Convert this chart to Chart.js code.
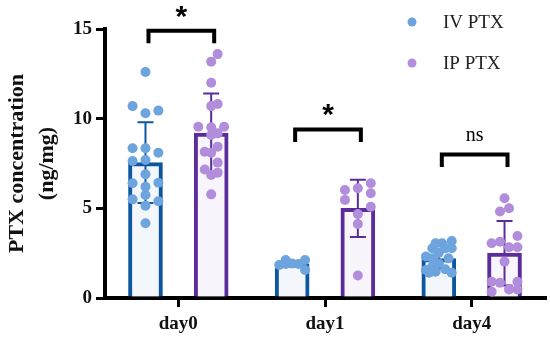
<!DOCTYPE html>
<html>
<head>
<meta charset="utf-8">
<script src="https://cdn.jsdelivr.net/npm/chart.js@4.4.1/dist/chart.umd.min.js"></script>
<style>
  body { margin: 0; background: #fff; }
  #wrap { width: 550px; height: 344px; }
</style>
</head>
<body>
<div id="wrap"><canvas id="ptxChart" width="550" height="344"></canvas></div>
<script>
// categories and group summaries
const days = ['day0', 'day1', 'day4'];
const ivMean = [7.55, 1.9, 2.2];
const ivSD = [2.25, 0.15, 0.55];
const ipMean = [9.2, 5.0, 2.5];
const ipSD = [2.2, 1.6, 1.8];

// individual points per day (values) and their scatter column (-2..2)
const ivDay0 = [12.6, 10.7, 10.3, 10.45, 8.35, 8.35, 8.1, 7.64, 7.7, 6.9, 6.4, 6.2, 6.43, 5.5, 5.74, 5.39, 5.15, 4.17];
const ivDay0Col = [0, -2, 0, 2, -2, 0, 2, -2, 0, 0, -2, 0, 2, -2, 0, 2, 0, 0];
const ivDay1 = [1.84, 2.12, 1.93, 1.9, 2.12, 1.56, 1.9];
const ivDay1Col = [-2, -1, 0, 1, 2, 2, -1];
const ivDay4 = [2.31, 1.56, 2.77, 3.05, 3.05, 3.18, 2.21, 2.53, 2.77, 2.77, 1.75, 1.93, 2.21, 1.47, 1.6, 1.41, 1.41];
const ivDay4Col = [-2, -2, -1, -0.5, 0.5, 2, -1, 0, 1, 2, -1, 0, 1.5, -0.5, 1, 2, -1.5];

const ipDay0 = [13.6, 13.18, 12.0, 10.7, 10.82, 9.55, 9.52, 9.55, 9.09, 9.18, 8.44, 8.16, 8.1, 7.55, 7.17, 6.99, 6.86, 5.78];
const ipDay0Col = [1, 0, 0, 0, 1, -2, 0, 2, 0, 1, 1, -1, 0, 1, -1, 1, 0, 0];
const ipDay1 = [6.02, 6.12, 6.4, 5.84, 5.47, 5.09, 4.68, 4.13, 1.25];
const ipDay1Col = [-2, 0, 2, 2, -2, 2, 0, 0, 0];
const ipDay4 = [5.56, 4.82, 5.0, 3.05, 3.14, 3.46, 2.83, 2.83, 2.03, 0.91, 0.85, 0.91, 0.48, 0.48, 0.35];
const ipDay4Col = [0, -0.7, 0.7, -2, -0.7, 2, 0.7, 2, 0, -2, -0.7, 2, 0.7, 2, -2];

// significance brackets
const sigLabels = ['*', '*', 'ns'];
const sigHeights = [14.9, 9.4, 8.0];

const ivBorder = '#0d56a0';
const ivFill = '#f3f7fc';
const ivDot = '#6ea4de';
const ipBorder = '#5a2c9c';
const ipFill = '#f8f5fd';
const ipDot = '#b18ddc';

const SERIF = "'Liberation Serif', 'DejaVu Serif', serif";
const GROUP_SHIFT = 0.224;   // bar centre offset from category centre, in category units
const COL_STEP = 0.044;      // one scatter column, in category units

function buildPoints(lists, cols, side) {
    const pts = [];
    lists.forEach((vals, day) => {
        vals.forEach((v, i) => {
            pts.push({ x: day + side * GROUP_SHIFT + cols[day][i] * COL_STEP, y: v });
        });
    });
    return pts;
}

function buildBars(means, side) {
    return means.map((m, day) => ({ x: day + side * GROUP_SHIFT, y: m }));
}

const ivPoints = buildPoints([ivDay0, ivDay1, ivDay4], [ivDay0Col, ivDay1Col, ivDay4Col], -1);
const ipPoints = buildPoints([ipDay0, ipDay1, ipDay4], [ipDay0Col, ipDay1Col, ipDay4Col], 1);

// error bars drawn right after each bar dataset
const errorBars = {
    id: 'errorBars',
    afterDatasetDraw(chart, args) {
        const ds = chart.data.datasets[args.index];
        if (!ds.sd) return;
        const y = chart.scales.y;
        const ctx = chart.ctx;
        ctx.save();
        ctx.strokeStyle = ds.borderColor;
        ctx.lineWidth = 2;
        args.meta.data.forEach((bar, i) => {
            const top = y.getPixelForValue(ds.data[i].y + ds.sd[i]);
            const bot = y.getPixelForValue(ds.data[i].y - ds.sd[i]);
            ctx.beginPath();
            ctx.moveTo(bar.x, top);
            ctx.lineTo(bar.x, bot);
            ctx.moveTo(bar.x - 8, top);
            ctx.lineTo(bar.x + 8, top);
            ctx.moveTo(bar.x - 8, bot);
            ctx.lineTo(bar.x + 8, bot);
            ctx.stroke();
        });
        ctx.restore();
    }
};

// brackets, stars and the legend
const annotations = {
    id: 'annotations',
    afterDraw(chart) {
        const ctx = chart.ctx;
        const y = chart.scales.y;
        const ivMeta = chart.getDatasetMeta(0);
        const ipMeta = chart.getDatasetMeta(1);
        ctx.save();
        ctx.strokeStyle = '#000';
        ctx.lineWidth = 4;
        ctx.lineCap = 'butt';
        sigLabels.forEach((label, i) => {
            const x1 = ivMeta.data[i].x + 3;
            const x2 = ipMeta.data[i].x + 3;
            const yTop = y.getPixelForValue(sigHeights[i]);
            const yLeg = y.getPixelForValue(sigHeights[i] - 0.7);
            ctx.beginPath();
            ctx.moveTo(x1, yLeg);
            ctx.lineTo(x1, yTop);
            ctx.lineTo(x2, yTop);
            ctx.lineTo(x2, yLeg);
            ctx.stroke();
            ctx.fillStyle = '#000';
            ctx.textAlign = 'center';
            const xm = (x1 + x2) / 2;
            if (label === '*') {
                ctx.font = "bold 30px 'Liberation Sans', sans-serif";
                ctx.textBaseline = 'alphabetic';
                ctx.fillText(label, xm, yTop - 5);
            } else {
                ctx.font = '20px ' + SERIF;
                ctx.textBaseline = 'middle';
                ctx.fillText(label, xm, yTop - 19);
            }
        });

        // legend
        const items = [
            { text: chart.data.datasets[2].label, color: ivDot, y: 22 },
            { text: chart.data.datasets[3].label, color: ipDot, y: 63 }
        ];
        ctx.font = '19px ' + SERIF;
        ctx.textAlign = 'left';
        ctx.textBaseline = 'middle';
        items.forEach(it => {
            ctx.fillStyle = it.color;
            ctx.beginPath();
            ctx.arc(412, it.y, 4.5, 0, Math.PI * 2);
            ctx.fill();
            ctx.fillStyle = '#222';
            ctx.fillText(it.text, 443, it.y + 1);
        });
        ctx.restore();
    }
};

const barStyle = {
    type: 'bar',
    xAxisID: 'xs',
    grouped: false,
    barThickness: 34,
    borderWidth: 4,
    order: 2
};

const ctx = document.getElementById('ptxChart').getContext('2d');
new Chart(ctx, {
    type: 'bar',
    data: {
        labels: days,
        datasets: [
            Object.assign({}, barStyle, {
                label: 'IV PTX bar',
                data: buildBars(ivMean, -1),
                sd: ivSD,
                backgroundColor: ivFill,
                borderColor: ivBorder
            }),
            Object.assign({}, barStyle, {
                label: 'IP PTX bar',
                data: buildBars(ipMean, 1),
                sd: ipSD,
                backgroundColor: ipFill,
                borderColor: ipBorder
            }),
            {
                type: 'scatter',
                label: 'IV PTX',
                data: ivPoints,
                xAxisID: 'xs',
                backgroundColor: ivDot,
                borderWidth: 0,
                pointRadius: 5,
                order: 1
            },
            {
                type: 'scatter',
                label: 'IP PTX',
                data: ipPoints,
                xAxisID: 'xs',
                backgroundColor: ipDot,
                borderWidth: 0,
                pointRadius: 5,
                order: 1
            }
        ]
    },
    options: {
        responsive: false,
        animation: false,
        layout: { padding: { top: 29, right: 4, left: 0, bottom: 0 } },
        plugins: {
            legend: { display: false },
            tooltip: { enabled: false }
        },
        scales: {
            x: {
                type: 'category',
                offset: true,
                grid: {
                    offset: false,
                    drawOnChartArea: false,
                    drawTicks: true,
                    tickLength: 9,
                    lineWidth: 3,
                    color: '#000'
                },
                border: { display: true, width: 4, color: '#000' },
                ticks: {
                    color: '#111',
                    padding: 6,
                    font: { family: SERIF, size: 19, weight: 'bold' }
                },
                afterFit(scale) { scale.height = 46; }
            },
            xs: {
                type: 'linear',
                display: false,
                offset: false,
                min: -0.5,
                max: 2.5
            },
            y: {
                min: 0,
                max: 15,
                ticks: {
                    stepSize: 5,
                    color: '#111',
                    padding: 4,
                    font: { family: SERIF, size: 19, weight: 'bold' }
                },
                grid: {
                    drawOnChartArea: false,
                    drawTicks: true,
                    tickLength: 9,
                    lineWidth: 3,
                    color: '#000'
                },
                border: { display: true, width: 4, color: '#000' },
                title: {
                    display: true,
                    text: ['PTX concentration', '(ng/mg)'],
                    color: '#111',
                    padding: { top: 2, bottom: 0 },
                    font: { family: SERIF, size: 22, weight: 'bold', lineHeight: 1.36 }
                },
                afterFit(scale) { scale.width = 105; }
            }
        }
    },
    plugins: [errorBars, annotations]
});
</script>
</body>
</html>
